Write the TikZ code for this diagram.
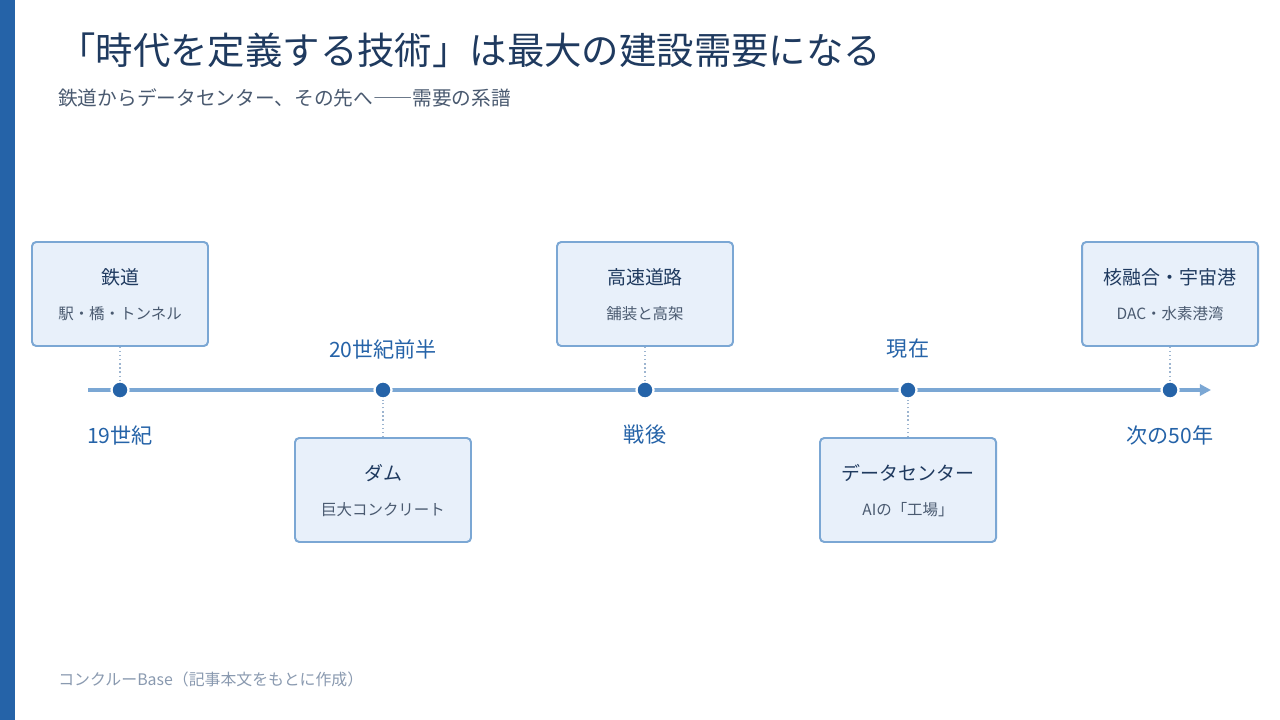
\documentclass[tikz,border=0pt]{standalone}
\usepackage{fontspec}
\setmainfont{Noto Sans CJK JP}
\usetikzlibrary{arrows.meta,positioning}

\definecolor{navy}{HTML}{1F3A5F}
\definecolor{mainblue}{HTML}{2563A8}
\definecolor{lineblue}{HTML}{7BA7D4}
\definecolor{tickblue}{HTML}{9DB5D0}
\definecolor{boxfill}{HTML}{E8F0FA}
\definecolor{subgray}{HTML}{4A5A70}
\definecolor{notegray}{HTML}{8A9AB0}

\newcommand{\fsz}[1]{\fontsize{#1}{#1}\selectfont}

\begin{document}
\begin{tikzpicture}[x=0.025cm, y=-0.025cm,
    evbox/.style={draw=lineblue, line width=1.4pt, fill=boxfill, rounded corners=3pt,
        minimum width=176*0.025cm, minimum height=104*0.025cm, inner sep=0pt},
    evtitle/.style={text=navy, font=\fsz{13.5}, inner sep=0pt},
    evsub/.style={text=subgray, font=\fsz{11}, inner sep=0pt},
    era/.style={text=mainblue, font=\fsz{15}, inner sep=0pt},
    dot/.style={circle, fill=mainblue, draw=white, line width=1.6pt, minimum size=17*0.025cm, inner sep=0pt},
    axis/.style={draw=lineblue, line width=3pt, -{Triangle[length=8pt, width=8pt]}},
    tick/.style={draw=tickblue, line width=0.9pt, dotted}]

    % 背景と左の帯
    \useasboundingbox (0,0) rectangle (1280,720);
    \fill[white] (0,0) rectangle (1280,720);
    \fill[mainblue] (0,0) rectangle (15,720);

    % タイトル
    \node[anchor=west, text=navy, font=\fsz{26.6}, inner sep=0pt] (title) at (58,50) {「時代を定義する技術」は最大の建設需要になる};
    \node[anchor=west, text=subgray, font=\fsz{14}, inner sep=0pt] (subtitle) at (58,98) {鉄道からデータセンター、その先へ{\addfontfeature{RawFeature=+fwid}——}需要の系譜};

    % 時間軸
    \coordinate (start) at (88,390);
    \coordinate (end) at (1211,390);
    \draw[axis] (start) -- (end);

    % 時点の点
    \node[dot] (d1) at (120,390) {};
    \node[dot] (d2) at (383,390) {};
    \node[dot] (d3) at (645,390) {};
    \node[dot] (d4) at (908,390) {};
    \node[dot] (d5) at (1170,390) {};

    % 上の箱
    \node[evbox] (b1) at (120,294) {};
    \node[evbox] (b3) at (645,294) {};
    \node[evbox] (b5) at (1170,294) {};
    % 下の箱
    \node[evbox] (b2) at (383,490) {};
    \node[evbox] (b4) at (908,490) {};

    % 箱の文字
    \node[evtitle] (t1) at (120,277) {鉄道};
    \node[evsub] (s1) at (120,314) {駅・橋・トンネル};
    \node[evtitle] (t2) at (383,473) {ダム};
    \node[evsub] (s2) at (383,510) {巨大コンクリート};
    \node[evtitle] (t3) at (645,277) {高速道路};
    \node[evsub] (s3) at (645,314) {舗装と高架};
    \node[evtitle] (t4) at (908,473) {データセンター};
    \node[evsub] (s4) at (908,510) {AIの「工場」};
    \node[evtitle] (t5) at (1170,277) {核融合・宇宙港};
    \node[evsub] (s5) at (1170,314) {DAC・水素港湾};

    % 点線のつなぎ
    \draw[tick] (b1) -- (d1);
    \draw[tick] (b2) -- (d2);
    \draw[tick] (b3) -- (d3);
    \draw[tick] (b4) -- (d4);
    \draw[tick] (b5) -- (d5);

    % 年代ラベル
    \node[era] (e1) at (120,435) {19世紀};
    \node[era] (e2) at (383,349) {20世紀前半};
    \node[era] (e3) at (645,435) {戦後};
    \node[era] (e4) at (908,349) {現在};
    \node[era] (e5) at (1170,435) {次の50年};

    % 出典
    \node[anchor=west, text=notegray, font=\fsz{11.3}, inner sep=0pt] (note) at (58,679) {コンクルーBase（記事本文をもとに作成）};
\end{tikzpicture}
\end{document}
